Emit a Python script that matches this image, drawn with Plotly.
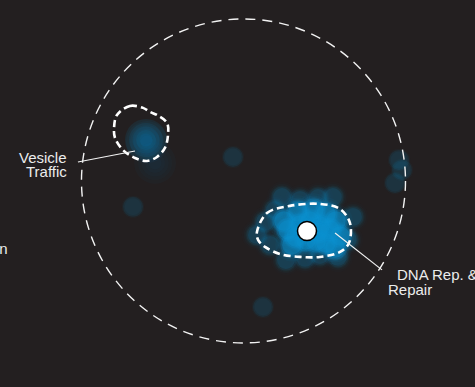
import plotly.graph_objects as go

# ---- embedding coordinates (unit circle = boundary of the map) ----
# DNA replication & repair cluster: dense core members
dna_core_x = [0.349, 0.410, 0.472, 0.534, 0.324, 0.386, 0.448, 0.509, 0.275, 0.250,
              0.336, 0.435, 0.509, 0.571, 0.596, 0.460, 0.398, 0.299, 0.565]
dna_core_y = [-0.272, -0.247, -0.278, -0.302, -0.346, -0.364, -0.370, -0.383, -0.302, -0.247,
              -0.191, -0.179, -0.204, -0.247, -0.340, -0.315, -0.302, -0.395, -0.414]
# DNA cluster: looser members around the core
dna_edge_x = [0.552, 0.583, 0.262, 0.083, 0.238, 0.676, 0.133, 0.164, 0.380, 0.472,
              0.349, 0.460, 0.645, 0.194]
dna_edge_y = [-0.099, -0.469, -0.488, -0.333, -0.099, -0.222, -0.253, -0.395, -0.475, -0.457,
              -0.117, -0.105, -0.364, -0.179]
# scattered, weakly associated genes
lone_x = [-0.065, -0.682, 0.120, 0.960, 0.978, 0.935]
lone_y = [0.148, -0.160, -0.778, 0.130, 0.068, -0.012]
# vesicle traffic cluster
ves_x = [-0.602, -0.596, -0.546]
ves_y = [0.253, 0.240, 0.111]
ves_w = [1.0, 0.5, 0.25]

# cluster medoid
medoid_x = [0.392]
medoid_y = [-0.309]

# density contours
ves_contour_x = [-0.781, -0.701, -0.620, -0.577, -0.534, -0.472, -0.466, -0.485, -0.534,
                 -0.596, -0.670, -0.744, -0.793, -0.799, -0.781]
ves_contour_y = [0.407, 0.463, 0.451, 0.426, 0.407, 0.358, 0.284, 0.204, 0.148,
                 0.123, 0.142, 0.191, 0.265, 0.327, 0.407]
dna_contour_x = [0.083, 0.145, 0.287, 0.472, 0.596, 0.657, 0.651, 0.596, 0.472, 0.349,
                 0.225, 0.133, 0.090, 0.083]
dna_contour_y = [-0.315, -0.198, -0.154, -0.142, -0.173, -0.259, -0.383, -0.438, -0.469, -0.469,
                 -0.451, -0.407, -0.364, -0.315]

# labels with leader lines
labels = [
    {"lines": ["Vesicle", "Traffic"], "x": -1.077, "y": [0.142, 0.056], "anchor": "right",
     "leader_x": [-1.022, -0.670], "leader_y": [0.117, 0.185]},
    {"lines": ["DNA Rep. &"], "x": 0.935, "y": [-0.580], "anchor": "left",
     "leader_x": [0.565, 0.855], "leader_y": [-0.321, -0.549]},
    {"lines": ["Repair"], "x": 0.880, "y": [-0.673], "anchor": "left",
     "leader_x": None, "leader_y": None},
    {"lines": ["Translation"], "x": -1.441, "y": [-0.414], "anchor": "right",
     "leader_x": None, "leader_y": None},
]

BG = "#231f20"
BLUE = (10, 144, 208)


def rgba(a, rgb=BLUE):
    return f"rgba({rgb[0]},{rgb[1]},{rgb[2]},{a:.3f})"


fig = go.Figure()


def soft_points(xs, ys, size, alpha, layers):
    # stacked discs of decreasing size give each point a soft rim
    for scale, frac in layers:
        fig.add_trace(go.Scatter(
            x=xs, y=ys, mode="markers", hoverinfo="skip",
            marker=dict(size=size * scale, color=rgba(alpha * frac), line=dict(width=0)),
        ))


SOFT = [(1.45, 0.12), (1.25, 0.22), (1.1, 0.4), (1.0, 0.7), (0.85, 1.0)]

soft_points(lone_x, lone_y, 20, 0.1, [(1.12, 0.4), (1.0, 1.0), (0.85, 0.6)])
soft_points(dna_edge_x, dna_edge_y, 21, 0.14, SOFT)
soft_points(dna_core_x, dna_core_y, 23, 0.4, SOFT)

# vesicle cluster: blurred glow
for xv, yv, w in zip(ves_x, ves_y, ves_w):
    for size in [42, 34, 27, 20, 13]:
        fig.add_trace(go.Scatter(
            x=[xv], y=[yv], mode="markers", hoverinfo="skip",
            marker=dict(size=size, color=f"rgba(10,125,180,{0.13 * w:.3f})", line=dict(width=0)),
        ))

# outer boundary circle
fig.add_shape(type="circle", xref="x", yref="y", x0=-1, y0=-1, x1=1, y1=1,
              line=dict(color="#f2f2f2", width=1.4, dash="10px,7px"))

# contours
for cx, cy in [(ves_contour_x, ves_contour_y), (dna_contour_x, dna_contour_y)]:
    fig.add_trace(go.Scatter(
        x=cx, y=cy, mode="lines", hoverinfo="skip",
        line=dict(color="white", width=2.6, dash="7px,4px", shape="spline", smoothing=1.0),
    ))

# leader lines and text
for lab in labels:
    if lab["leader_x"]:
        fig.add_trace(go.Scatter(
            x=lab["leader_x"], y=lab["leader_y"], mode="lines", hoverinfo="skip",
            line=dict(color="#f2f2f2", width=1.2),
        ))
    for text, yy in zip(lab["lines"], lab["y"]):
        fig.add_annotation(x=lab["x"], y=yy, text=text, showarrow=False,
                           xanchor=lab["anchor"], yanchor="middle",
                           font=dict(family="Liberation Sans, Arial", size=15, color="#ececec"))

# medoid marker
fig.add_trace(go.Scatter(
    x=medoid_x, y=medoid_y, mode="markers", hoverinfo="skip",
    marker=dict(size=19, color="white", line=dict(color="black", width=1.5)),
))

fig.update_layout(
    width=475, height=387, margin=dict(l=0, r=0, t=0, b=0),
    paper_bgcolor=BG, plot_bgcolor=BG, showlegend=False,
    xaxis=dict(range=[-1.503, 1.429], visible=False, fixedrange=True),
    yaxis=dict(range=[-1.272, 1.117], visible=False, fixedrange=True),
)

fig.write_html("out.html")
